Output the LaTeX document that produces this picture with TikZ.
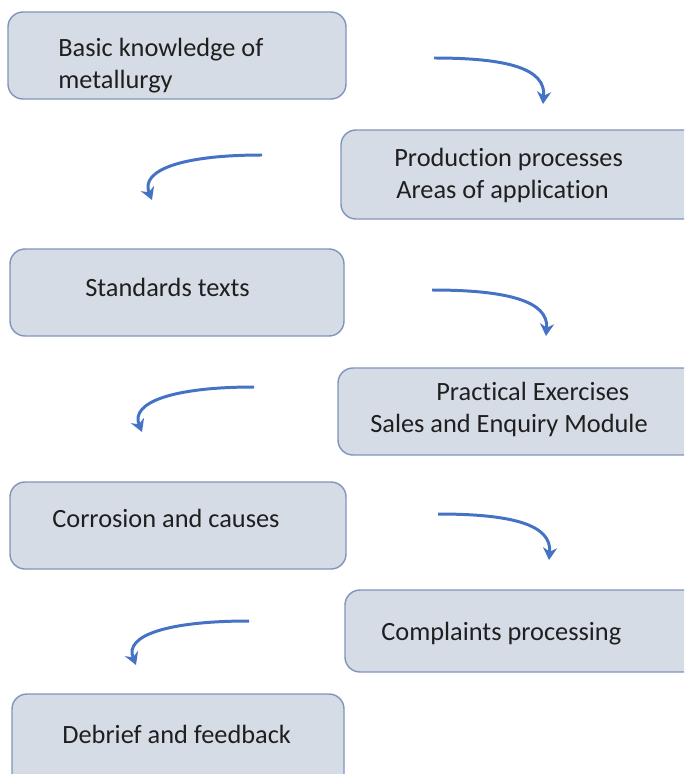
\documentclass[tikz,border=0pt]{standalone}
\usepackage{fontspec}
\setmainfont{Carlito}[Ligatures=NoCommon]
\usetikzlibrary{arrows.meta,fit}
\definecolor{boxfill}{RGB}{214,220,229}
\definecolor{boxline}{RGB}{128,148,188}
\definecolor{flowblue}{RGB}{68,114,196}
\tikzset{
  stepbox/.style={draw=boxline, fill=boxfill, rounded corners=0.3cm, line width=0.8pt, inner sep=0pt},
  boxtext/.style={anchor=base west, inner sep=0pt, text=black!88, font=\fontsize{15}{18}\selectfont},
  flow/.style={draw=flowblue, line width=1.7pt, -{Stealth[length=7pt,width=8pt]}}
}
\begin{document}
\begin{tikzpicture}[x=0.02cm, y=-0.02cm]
\useasboundingbox (0,0) rectangle (684,774);
\clip (0,0) rectangle (684,774);
% boxes
\node[stepbox, fit={(8,12) (346,99)}] (metal) {};
\node[stepbox, fit={(341,130) (700,219)}] (prod) {};
\node[stepbox, fit={(10,249) (344,336)}] (std) {};
\node[stepbox, fit={(338,368) (700,455)}] (pract) {};
\node[stepbox, fit={(10,482) (346,569)}] (corr) {};
\node[stepbox, fit={(345,590) (700,672)}] (compl) {};
\node[stepbox, fit={(12,694) (344,790)}] (debrief) {};
% texts
\node[boxtext] (metal1) at (58,56) {Basic knowledge of};
\node[boxtext] (metal2) at (58,88) {metallurgy};
\node[boxtext] (prod1) at (394,166) {Production processes};
\node[boxtext] (prod2) at (396,198) {Areas of application};
\node[boxtext] (std1) at (85,296) {Standards texts};
\node[boxtext] (pract1) at (436,400) {Practical Exercises};
\node[boxtext] (pract2) at (370,432) {Sales and Enquiry Module};
\node[boxtext] (corr1) at (52,527) {Corrosion and causes};
\node[boxtext] (compl1) at (381,640) {Complaints processing};
\node[boxtext] (debrief1) at (62,743) {Debrief and feedback};
% arrow ends
\coordinate (r1s) at (434,58);  \coordinate (r1e) at (543,104);
\coordinate (l1s) at (262,155); \coordinate (l1e) at (152,200);
\coordinate (r2s) at (432,290); \coordinate (r2e) at (546,336);
\coordinate (l2s) at (254,387); \coordinate (l2e) at (142,432);
\coordinate (r3s) at (438,514); \coordinate (r3e) at (549,560);
\coordinate (l3s) at (249,621); \coordinate (l3e) at (136,665);
% arrows
\draw[flow] (r1s) .. controls +(75,0) and +(3,-35) .. (r1e);
\draw[flow] (l1s) .. controls +(-80,0) and +(-12,-30) .. (l1e);
\draw[flow] (r2s) .. controls +(75,0) and +(3,-35) .. (r2e);
\draw[flow] (l2s) .. controls +(-80,0) and +(-12,-30) .. (l2e);
\draw[flow] (r3s) .. controls +(75,0) and +(3,-35) .. (r3e);
\draw[flow] (l3s) .. controls +(-80,0) and +(-12,-30) .. (l3e);
\end{tikzpicture}
\end{document}
